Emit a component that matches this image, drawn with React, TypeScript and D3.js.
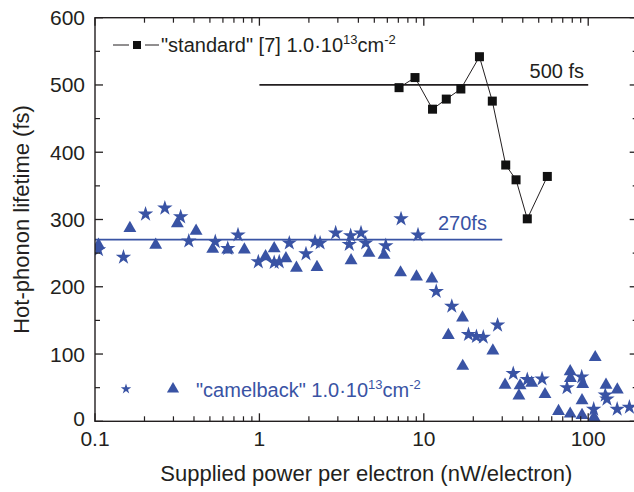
import React from "react";
import * as d3 from "d3";

// "standard" [7] series (black squares with line)
const standardPower = [7.07, 8.84, 11.3, 13.7, 16.8, 21.8, 26.1, 31.5, 36.4, 42.6, 56.4];
const standardLifetime = [496, 511, 464, 479, 494, 542, 476, 381, 359, 301, 364];

// "camelback" stars
const starPower = [0.105, 0.149, 0.203, 0.266, 0.332, 0.372, 0.539, 0.642, 0.741, 0.985, 1.23, 1.32, 1.52, 1.92, 2.18, 2.34, 2.91, 3.52, 3.59, 4.15, 4.43, 5.87, 7.27, 9.22, 11.9, 14.8, 18.7, 20.9, 23.0, 28.1, 35.0, 42.6, 52.4, 74.3, 91.3, 108, 127, 130, 150, 178];
const starLifetime = [255, 244, 308, 317, 304, 268, 267, 257, 277, 237, 236, 237, 265, 249, 267, 265, 280, 263, 276, 280, 265, 261, 301, 277, 193, 171, 129, 126, 125, 143, 71, 62, 63, 50, 66, 18, 39, 33, 18, 21];

// "camelback" triangles
const triPower = [0.105, 0.163, 0.234, 0.317, 0.412, 0.52, 0.642, 0.81, 1.09, 1.23, 1.45, 1.68, 2.24, 3.61, 4.64, 5.73, 7.22, 9.03, 11.2, 17.2, 14.1, 17.25, 26.3, 31.2, 38.5, 37.9, 45.3, 54.6, 66.0, 77.7, 78.0, 77.7, 92.6, 91.7, 91.7, 108.5, 110.3, 128.3, 150.3];
const triLifetime = [262, 287, 262, 294, 283, 256, 255, 255, 245, 257, 242, 228, 229, 239, 250, 247, 221, 215, 212, 154, 128, 82, 105, 54, 53, 38, 57, 40, 15, 74, 64, 11, 55, 31, 9, 6, 95, 54, 47];

// reference lines
const refFrom = [1, 0.1];
const refTo = [100, 30];
const refValue = [500, 270];
const refLabels = ["500 fs", "270fs"];

// ticks
const xMajorTicks = [0.1, 1, 10, 100];
const xTickLabels = ["0.1", "1", "10", "100"];
const yMajorTicks = [0, 100, 200, 300, 400, 500, 600];
const yMinorTicks = [50, 150, 250, 350, 450, 550];

const BLUE = "#3953a4";
const INK = "#231f20";
const FONT = "'Liberation Sans', Arial, Helvetica, sans-serif";

export default function App() {
  const W = 634, H = 492;
  const L = 95, R = 637.7, T = 17.7, B = 421.3;
  const x = d3.scaleLog().domain([0.1, 200]).range([L, R]);
  const y = d3.scaleLinear().domain([0, 600]).range([B, T]);

  const xMinor: number[] = [];
  [0.1, 1, 10, 100].forEach((d) => {
    for (let k = 2; k <= 9; k++) if (k * d <= 200) xMinor.push(k * d);
  });

  const star = d3.symbol().type(d3.symbolStar).size(74)();
  const tri = d3.symbol().type(d3.symbolTriangle).size(72)();
  const starLeg = d3.symbol().type(d3.symbolStar).size(34)();
  const triLeg = d3.symbol().type(d3.symbolTriangle).size(64)();

  const line = d3
    .line<number>()
    .x((_, i) => x(standardPower[i]))
    .y((d) => y(d));

  const maj = 8, min = 5;

  return (
    <svg width={W} height={H} style={{ position: "absolute", left: 0, top: 0, background: "#fff" }} fontFamily={FONT}>
      <defs>
        <clipPath id="plot">
          <rect x={L} y={T} width={R - L} height={B - T} />
        </clipPath>
      </defs>
      <rect x={0} y={0} width={W} height={H} fill="#fff" />

      {/* reference lines */}
      <g clipPath="url(#plot)">
        {refValue.map((v, i) => (
          <line key={i} x1={x(refFrom[i])} x2={x(refTo[i])} y1={y(v)} y2={y(v)} stroke={i === 0 ? INK : BLUE} strokeWidth={1.8} />
        ))}
      </g>
      <text x={584} y={78} fontSize={20} textAnchor="end" fill={INK}>{refLabels[0]}</text>
      <text x={438} y={230} fontSize={20} fill={BLUE}>{refLabels[1]}</text>

      {/* data */}
      <g clipPath="url(#plot)">
        {starPower.map((p, i) => (
          <path key={"s" + i} d={star!} transform={`translate(${x(p)},${y(starLifetime[i])})`} fill={BLUE} />
        ))}
        {triPower.map((p, i) => (
          <path key={"t" + i} d={tri!} transform={`translate(${x(p)},${y(triLifetime[i])})`} fill={BLUE} />
        ))}
        <path d={line(standardLifetime)!} fill="none" stroke={INK} strokeWidth={1} />
        {standardPower.map((p, i) => (
          <rect key={"q" + i} x={x(p) - 4.5} y={y(standardLifetime[i]) - 4.5} width={9} height={9} fill="#111" />
        ))}
      </g>

      {/* frame */}
      <rect x={L} y={T} width={R - L} height={B - T} fill="none" stroke={INK} strokeWidth={1.4} />

      {/* x ticks */}
      {xMajorTicks.map((t) => (
        <g key={"xm" + t}>
          <line x1={x(t)} x2={x(t)} y1={B} y2={B - maj} stroke={INK} strokeWidth={1.3} />
          <line x1={x(t)} x2={x(t)} y1={T} y2={T + maj} stroke={INK} strokeWidth={1.3} />
        </g>
      ))}
      {xMinor.map((t) => (
        <g key={"xn" + t}>
          <line x1={x(t)} x2={x(t)} y1={B} y2={B - min} stroke={INK} strokeWidth={1.2} />
          <line x1={x(t)} x2={x(t)} y1={T} y2={T + min} stroke={INK} strokeWidth={1.2} />
        </g>
      ))}
      {xMajorTicks.map((t, i) => (
        <text key={"xl" + t} x={x(t)} y={446} fontSize={21} textAnchor="middle" fill={INK}>{xTickLabels[i]}</text>
      ))}

      {/* y ticks */}
      {yMajorTicks.map((t) => (
        <g key={"ym" + t}>
          <line x1={L} x2={L + maj} y1={y(t)} y2={y(t)} stroke={INK} strokeWidth={1.3} />
          <line x1={R} x2={R - maj} y1={y(t)} y2={y(t)} stroke={INK} strokeWidth={1.3} />
          <text x={85} y={y(t) + (t === 0 ? 5 : 7.5)} fontSize={21} textAnchor="end" fill={INK}>{t}</text>
        </g>
      ))}
      {yMinorTicks.map((t) => (
        <g key={"yn" + t}>
          <line x1={L} x2={L + min} y1={y(t)} y2={y(t)} stroke={INK} strokeWidth={1.2} />
          <line x1={R} x2={R - min} y1={y(t)} y2={y(t)} stroke={INK} strokeWidth={1.2} />
        </g>
      ))}

      {/* axis titles */}
      <text x={(L + R) / 2} y={481} fontSize={22} textAnchor="middle" fill={INK}>Supplied power per electron (nW/electron)</text>
      <text transform={`translate(29,${(T + B) / 2}) rotate(-90)`} fontSize={22} textAnchor="middle" fill={INK}>Hot-phonon lifetime (fs)</text>

      {/* legend: standard */}
      <line x1={113} x2={129} y1={45} y2={45} stroke={INK} strokeWidth={1} />
      <line x1={145} x2={159} y1={45} y2={45} stroke={INK} strokeWidth={1} />
      <rect x={133} y={41} width={8} height={8} fill="#111" />
      <text x={161} y={52} fontSize={20} fill={INK}>
        "standard" [7] 1.0·10<tspan dy={-8} fontSize={13}>13</tspan>
        <tspan dy={8} fontSize={20}>cm</tspan>
        <tspan dy={-8} fontSize={13}>-2</tspan>
      </text>

      {/* legend: camelback */}
      <path d={starLeg!} transform="translate(126,389)" fill={BLUE} />
      <path d={triLeg!} transform="translate(173,389)" fill={BLUE} />
      <text x={196} y={397} fontSize={20} fill={BLUE}>
        "camelback" 1.0·10<tspan dy={-8} fontSize={13}>13</tspan>
        <tspan dy={8} fontSize={20}>cm</tspan>
        <tspan dy={-8} fontSize={13}>-2</tspan>
      </text>
    </svg>
  );
}
